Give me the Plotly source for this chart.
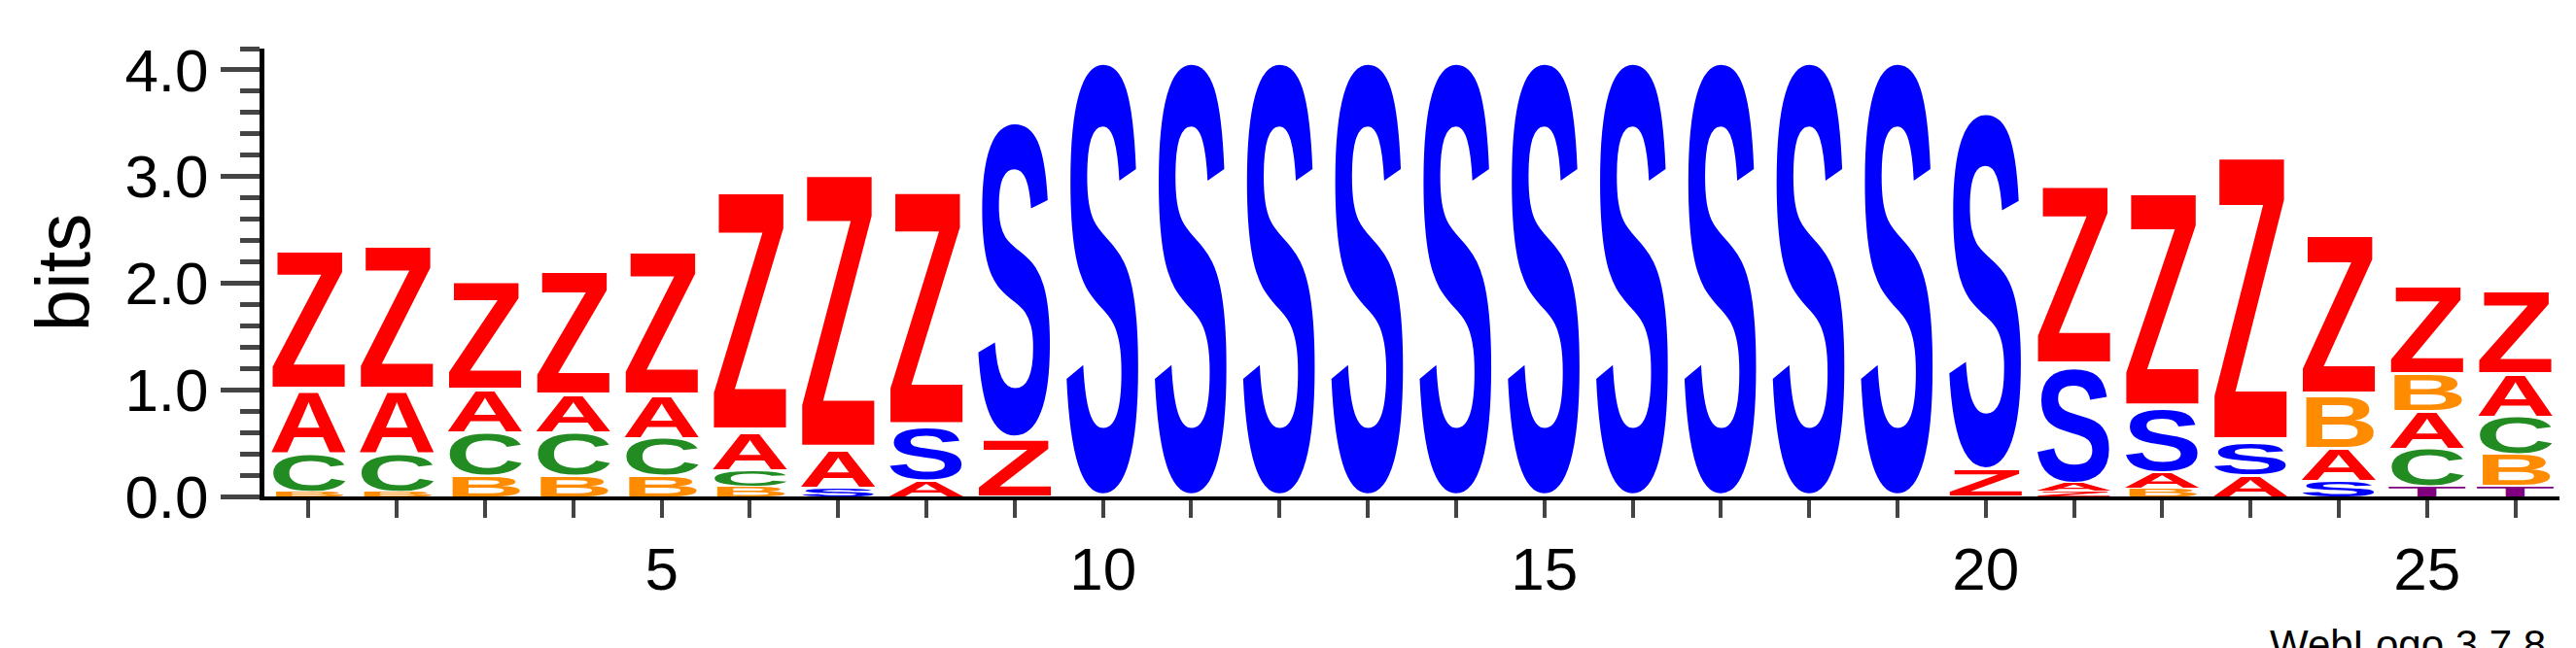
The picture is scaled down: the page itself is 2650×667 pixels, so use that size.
import base64
import plotly.graph_objects as go

# stacks per position, bottom -> top: (letter, bits)
positions = list(range(1, 27))
stacks = [
    [("B", 0.05), ("C", 0.35), ("A", 0.6), ("Z", 1.35)],
    [("B", 0.05), ("C", 0.35), ("A", 0.6), ("Z", 1.4)],
    [("B", 0.2), ("C", 0.4), ("A", 0.4), ("Z", 1.05)],
    [("B", 0.2), ("C", 0.4), ("A", 0.35), ("Z", 1.2)],
    [("B", 0.2), ("C", 0.35), ("A", 0.4), ("Z", 1.4)],
    [("B", 0.1), ("C", 0.15), ("A", 0.35), ("Z", 2.35)],
    [("S", 0.08), ("A", 0.35), ("Z", 2.7)],
    [("A", 0.15), ("S", 0.5), ("Z", 2.3)],
    [("Z", 0.55), ("S", 3.05)],
    [("S", 4.2)], [("S", 4.2)], [("S", 4.2)], [("S", 4.2)], [("S", 4.2)],
    [("S", 4.2)], [("S", 4.2)], [("S", 4.2)], [("S", 4.2)], [("S", 4.2)],
    [("Z", 0.25), ("S", 3.45)],
    [("Z", 0.05), ("A", 0.08), ("S", 1.1), ("Z", 1.75)],
    [("B", 0.08), ("A", 0.15), ("S", 0.6), ("Z", 2.1)],
    [("A", 0.2), ("S", 0.3), ("Z", 2.8)],
    [("S", 0.15), ("A", 0.3), ("B", 0.5), ("Z", 1.55)],
    [("T", 0.1), ("C", 0.35), ("A", 0.35), ("B", 0.35), ("Z", 0.85)],
    [("T", 0.1), ("B", 0.3), ("C", 0.35), ("A", 0.4), ("Z", 0.8)],
]
colors = {"Z": "#ff0000", "A": "#ff0000", "C": "#228b22", "B": "#ff8c00",
          "S": "#0000ff", "T": "#800080"}
y_ticks = [0, 1, 2, 3, 4]
y_tick_labels = ["0.0", "1.0", "2.0", "3.0", "4.0"]
x_ticks = [5, 10, 15, 20, 25]


def glyph(letter, color):
    svg = ('<svg xmlns="http://www.w3.org/2000/svg" viewBox="0 -72.5 100 74" '
           'preserveAspectRatio="none"><text x="2" y="0" font-family="Liberation Sans, Arial" '
           'font-weight="bold" font-size="100" textLength="96" lengthAdjust="spacingAndGlyphs" '
           f'fill="{color}">{letter}</text></svg>')
    return "data:image/svg+xml;base64," + base64.b64encode(svg.encode()).decode()


images = []
for pos, stack in zip(positions, stacks):
    base = 0.0
    for letter, h in stack:
        images.append(dict(source=glyph(letter, colors[letter]), xref="x", yref="y",
                           x=pos - 0.47, y=base, sizex=0.94, sizey=h,
                           xanchor="left", yanchor="bottom", sizing="stretch", layer="above"))
        base += h

fig = go.Figure(go.Scatter(x=[0.5, 26.5], y=[0, 0], mode="markers",
                           marker=dict(opacity=0), hoverinfo="skip", showlegend=False))
fig.update_layout(
    images=images,
    width=2650, height=667,
    margin=dict(l=264, r=25, t=42, b=164),
    plot_bgcolor="white", paper_bgcolor="white",
    font=dict(family="Liberation Sans, Arial", size=62, color="black"),
    xaxis=dict(range=[0.5, 26.5], tickvals=x_ticks, ticks="outside", ticklen=18,
               tickwidth=4, showline=True, linewidth=4, linecolor="black",
               showgrid=False, zeroline=False,
               minor=dict(dtick=1, tick0=0, ticks="outside", ticklen=18, tickwidth=4)),
    yaxis=dict(range=[0, 4.2], tickvals=y_ticks, ticktext=y_tick_labels, ticks="outside",
               ticklen=40, tickwidth=5, showline=True, linewidth=5, linecolor="black",
               showgrid=False, zeroline=False,
               title=dict(text="bits", font=dict(size=78), standoff=12),
               minor=dict(dtick=0.2, ticks="outside", ticklen=20, tickwidth=5)),
    annotations=[dict(text="WebLogo 3.7.8", xref="paper", yref="paper", x=0.995, y=-0.33,
                      xanchor="right", yanchor="middle", showarrow=False,
                      font=dict(size=42))],
)
fig.write_html("out.html")
